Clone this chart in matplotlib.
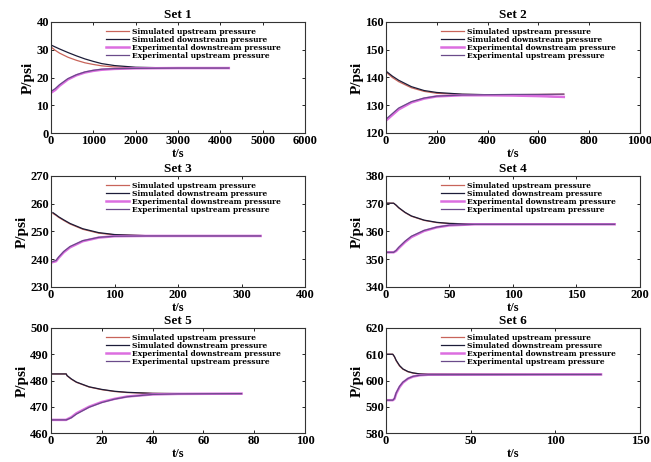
import matplotlib
matplotlib.use("Agg")
import matplotlib.pyplot as plt

plt.rcParams['font.family'] = ['Liberation Serif', 'DejaVu Serif']
plt.rcParams['font.weight'] = 'bold'

labels = ["Simulated upstream pressure", "Simulated downstream pressure",
          "Experimental downstream pressure", "Experimental upstream pressure"]
colors = ["#c8645a", "#1c1c38", "#dc6ee0", "#6a4a8a"]
widths = [0.9, 0.9, 1.8, 0.9]

titles = ["Set 1", "Set 2", "Set 3", "Set 4", "Set 5", "Set 6"]
xlims = [(0, 6000), (0, 1000), (0, 400), (0, 200), (0, 100), (0, 150)]
xticks = [[0, 1000, 2000, 3000, 4000, 5000, 6000], [0, 200, 400, 600, 800, 1000],
          [0, 100, 200, 300, 400], [0, 50, 100, 150, 200],
          [0, 20, 40, 60, 80, 100], [0, 50, 100, 150]]
ylims = [(0, 40), (120, 160), (230, 270), (340, 380), (460, 500), (580, 620)]
yticks = [[0, 10, 20, 30, 40], [120, 130, 140, 150, 160], [230, 240, 250, 260, 270],
          [340, 350, 360, 370, 380], [460, 470, 480, 490, 500], [580, 590, 600, 610, 620]]

# Set 1
s1_t = [0, 100, 200, 400, 600, 800, 1000, 1200, 1500, 2000, 3000, 4200]
s1_sim_up = [31.0, 29.8, 28.8, 27.3, 26.2, 25.3, 24.7, 24.2, 23.8, 23.5, 23.4, 23.4]
s1_sim_down = [31.7, 31.0, 30.3, 29.0, 27.8, 26.7, 25.8, 25.0, 24.3, 23.7, 23.4, 23.4]
s1_exp_down = [14.5, 15.5, 17.0, 19.3, 20.8, 21.8, 22.4, 22.8, 23.1, 23.3, 23.4, 23.4]
s1_exp_up = [15.0, 16.0, 17.4, 19.6, 21.0, 22.0, 22.6, 23.0, 23.2, 23.3, 23.4, 23.4]

# Set 2
s2_t = [0, 25, 50, 100, 150, 200, 300, 400, 500, 600, 700]
s2_sim_up = [142.0, 140.0, 138.5, 136.3, 135.0, 134.3, 133.9, 133.8, 133.8, 133.9, 134.0]
s2_sim_down = [142.3, 140.5, 139.0, 136.7, 135.3, 134.6, 134.0, 133.8, 133.6, 133.3, 133.0]
s2_exp_down = [124.5, 126.5, 128.5, 131.0, 132.4, 133.2, 133.6, 133.6, 133.5, 133.3, 133.0]
s2_exp_up = [125.0, 127.0, 129.0, 131.3, 132.6, 133.3, 133.7, 133.8, 133.9, 133.9, 134.0]

# Set 3
s3_t = [3, 8, 12, 20, 30, 50, 75, 100, 150, 200, 330]
s3_sim_up = [256.5, 255.8, 255.1, 254.0, 252.7, 250.8, 249.4, 248.8, 248.5, 248.4, 248.4]
s3_sim_down = [256.8, 256.0, 255.3, 254.2, 252.9, 251.0, 249.6, 248.9, 248.5, 248.4, 248.4]
s3_exp_down = [239.0, 239.3, 240.5, 242.5, 244.3, 246.5, 247.8, 248.3, 248.4, 248.4, 248.4]
s3_exp_up = [239.2, 239.6, 240.8, 242.8, 244.6, 246.7, 247.9, 248.3, 248.4, 248.4, 248.4]

# Set 4
s4_t = [0, 6, 8, 10, 15, 20, 30, 40, 50, 70, 180]
s4_sim_up = [370.2, 370.2, 369.4, 368.5, 366.8, 365.5, 364.0, 363.2, 362.9, 362.7, 362.7]
s4_sim_down = [370.2, 370.2, 369.5, 368.6, 366.9, 365.6, 364.1, 363.3, 362.9, 362.7, 362.7]
s4_exp_down = [352.5, 352.5, 353.0, 354.0, 356.2, 358.0, 360.2, 361.5, 362.2, 362.6, 362.6]
s4_exp_up = [352.5, 352.5, 353.2, 354.3, 356.5, 358.3, 360.4, 361.6, 362.3, 362.6, 362.6]

# Set 5
s5_t = [0, 6, 6.3, 8, 10, 15, 20, 25, 30, 40, 50, 75]
s5_sim_up = [482.5, 482.5, 481.8, 480.5, 479.3, 477.5, 476.5, 475.8, 475.4, 475.1, 475.0, 475.0]
s5_sim_down = [482.5, 482.5, 481.9, 480.6, 479.4, 477.6, 476.6, 475.9, 475.5, 475.1, 475.0, 475.0]
s5_exp_down = [465.0, 465.0, 465.2, 466.0, 467.5, 470.0, 471.8, 473.0, 473.9, 474.7, 474.9, 475.0]
s5_exp_up = [465.0, 465.0, 465.1, 465.8, 467.2, 469.8, 471.6, 472.9, 473.8, 474.7, 474.9, 475.0]

# Set 6
s6_t = [0, 4, 5, 6, 8, 10, 13, 16, 20, 25, 127]
s6_sim_up = [610.0, 610.0, 609.0, 607.5, 605.5, 604.3, 603.3, 602.8, 602.5, 602.4, 602.3]
s6_sim_down = [610.0, 610.0, 609.1, 607.7, 605.7, 604.4, 603.4, 602.9, 602.5, 602.4, 602.3]
s6_exp_down = [592.5, 592.5, 593.0, 595.0, 597.5, 599.2, 600.7, 601.5, 602.0, 602.2, 602.3]
s6_exp_up = [592.5, 592.5, 593.2, 595.3, 597.8, 599.4, 600.8, 601.6, 602.0, 602.2, 602.3]

sets = [
    (s1_t, s1_sim_up, s1_sim_down, s1_exp_down, s1_exp_up),
    (s2_t, s2_sim_up, s2_sim_down, s2_exp_down, s2_exp_up),
    (s3_t, s3_sim_up, s3_sim_down, s3_exp_down, s3_exp_up),
    (s4_t, s4_sim_up, s4_sim_down, s4_exp_down, s4_exp_up),
    (s5_t, s5_sim_up, s5_sim_down, s5_exp_down, s5_exp_up),
    (s6_t, s6_sim_up, s6_sim_down, s6_exp_down, s6_exp_up),
]

fig = plt.figure(figsize=(6.51, 4.62), dpi=100)
W, H = 651.0, 462.0
rects = [(51, 22, 305, 133), (386, 22, 640, 133),
         (51, 176, 305, 287), (386, 176, 640, 287),
         (51, 328, 305, 433), (386, 328, 640, 433)]

for i, (l, t, r, b) in enumerate(rects):
    ax = fig.add_axes([l / W, 1 - b / H, (r - l) / W, (b - t) / H])
    tt = sets[i][0]
    series = sets[i][1:]
    for k in range(4):
        ax.plot(tt, series[k], color=colors[k], lw=widths[k], label=labels[k])
    ax.set_xlim(*xlims[i])
    ax.set_ylim(*ylims[i])
    ax.set_xticks(xticks[i])
    ax.set_yticks(yticks[i])
    ax.tick_params(direction='in', length=2, width=0.6, labelsize=9, pad=1.5,
                   top=True, right=True)
    for lab in ax.get_xticklabels() + ax.get_yticklabels():
        lab.set_fontweight('bold')
    for sp in ax.spines.values():
        sp.set_linewidth(0.8)
        sp.set_color('#333333')
    ax.set_title(titles[i], fontsize=9.5, fontweight='bold', pad=3)
    ax.set_xlabel("t/s", fontsize=9, fontweight='bold', labelpad=0.5)
    ax.set_ylabel("P/psi", fontsize=11, fontweight='bold', labelpad=1)
    ax.legend(loc='upper left', bbox_to_anchor=(0.2, 0.99), frameon=False,
              handlelength=3.0, handletextpad=0.4, labelspacing=0.02,
              borderaxespad=0.2,
              prop={'family': 'DejaVu Serif', 'weight': 'bold', 'size': 5.4})

fig.savefig("out.png", dpi=100)
